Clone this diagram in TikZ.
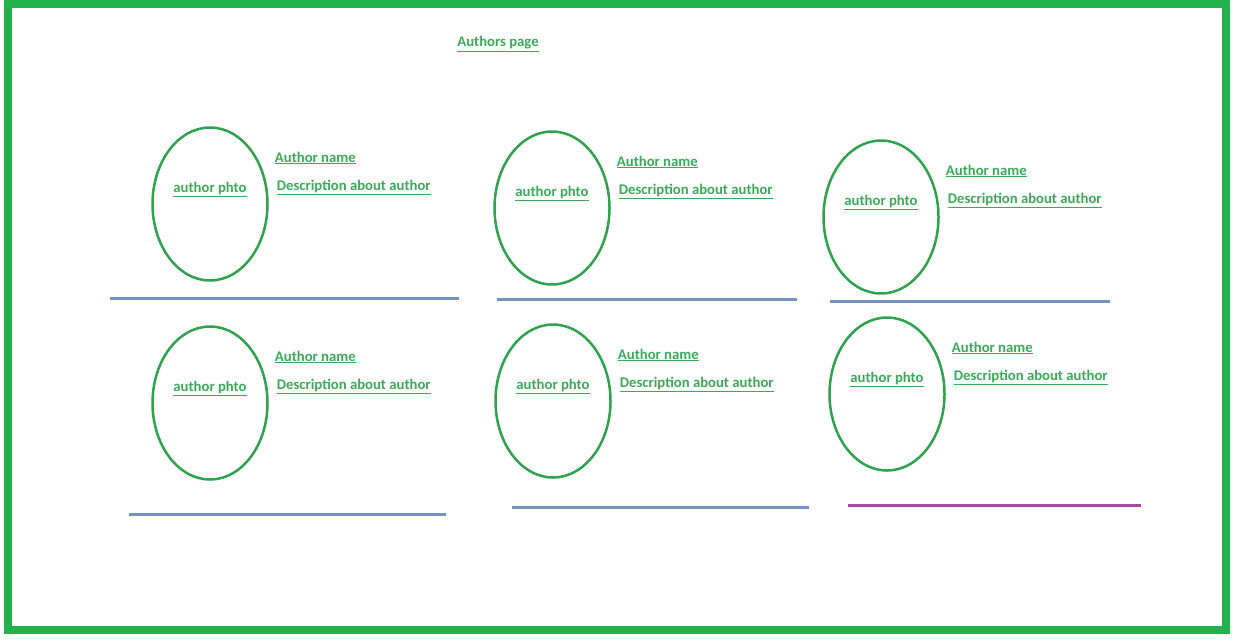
\documentclass[tikz,border=0pt]{standalone}
\usepackage{fontspec}
\setmainfont{Carlito}
\usepackage{xcolor}
\usetikzlibrary{shapes.geometric}

\definecolor{framegreen}{HTML}{22B14C}
\definecolor{ovalgreen}{HTML}{2FA24E}
\definecolor{textgreen}{HTML}{3AAA58}
\definecolor{rulegray}{HTML}{7393BE}
\definecolor{rulepurple}{HTML}{A24BA2}

\begin{document}
\begin{tikzpicture}[x=1pt, y=-1pt]
    % Define the styles
    \tikzstyle{frame} = [draw=framegreen, line width=8pt]
    \tikzstyle{photo} = [ellipse, draw=ovalgreen, line width=2.5pt, minimum width=115pt, minimum height=153pt, inner sep=0pt]
    \tikzstyle{caption} = [text=textgreen, font=\fontsize{14.7}{17}\selectfont\bfseries, inner sep=1pt]
    \tikzstyle{rule} = [draw=rulegray, line width=3pt]

    \useasboundingbox (0,0) rectangle (1238,640);
    \draw [frame] (8,4) rectangle (1226,630);

    % Title
    \node [caption] (title) at (498,44) {\underline{Authors page}};

    % Place the photos
    \node [photo] (photo1) at (210,204) {};
    \node [photo] (photo2) at (552,208) {};
    \node [photo] (photo3) at (881,217) {};
    \node [photo] (photo4) at (210,403) {};
    \node [photo] (photo5) at (553,401) {};
    \node [photo] (photo6) at (887,394) {};

    % Texts of each author
    \foreach \i in {1,...,6} {
        \node [caption] (pic\i) at ([yshift=15pt]photo\i.center) {\underline{author phto}};
        \node [caption, anchor=west] (name\i) at ([xshift=5pt, yshift=46pt]photo\i.east) {\underline{Author name}};
        \node [caption, anchor=west] (desc\i) at ([xshift=7pt, yshift=17pt]photo\i.east) {\underline{Description about author}};
    }

    % Separating rules
    \coordinate (r1a) at (110,298); \coordinate (r1b) at (459,298);
    \coordinate (r2a) at (497,299); \coordinate (r2b) at (797,299);
    \coordinate (r3a) at (830,301); \coordinate (r3b) at (1110,301);
    \coordinate (r4a) at (129,514); \coordinate (r4b) at (446,514);
    \coordinate (r5a) at (512,507); \coordinate (r5b) at (809,507);
    \coordinate (r6a) at (848,505); \coordinate (r6b) at (1141,505);
    \path [rule] (r1a) -- (r1b);
    \path [rule] (r2a) -- (r2b);
    \path [rule] (r3a) -- (r3b);
    \path [rule] (r4a) -- (r4b);
    \path [rule] (r5a) -- (r5b);
    \path [rule, draw=rulepurple] (r6a) -- (r6b);

\end{tikzpicture}
\end{document}
